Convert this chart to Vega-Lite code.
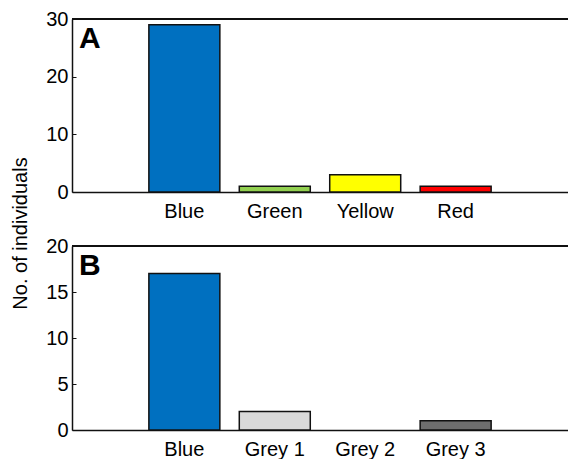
{
  "$schema": "https://vega.github.io/schema/vega-lite/v6.json",
  "padding": {"left": 10, "top": 9, "right": 0, "bottom": 0},
  "background": "white",
  "data": {"values": [
    {"panel": "A", "colour": "Blue", "count": 29},
    {"panel": "A", "colour": "Green", "count": 1},
    {"panel": "A", "colour": "Yellow", "count": 3},
    {"panel": "A", "colour": "Red", "count": 1},
    {"panel": "B", "colour": "Blue", "count": 17},
    {"panel": "B", "colour": "Grey 1", "count": 2},
    {"panel": "B", "colour": "Grey 2", "count": 0},
    {"panel": "B", "colour": "Grey 3", "count": 1}
  ]},
  "config": {
    "font": "Liberation Sans",
    "view": {"stroke": null},
    "axis": {"labelFont": "Liberation Sans", "labelFontSize": 20, "labelColor": "black", "titleFont": "Liberation Sans", "titleFontSize": 20, "titleFontWeight": "normal", "titleColor": "black", "domainColor": "#111", "domainWidth": 1.5, "grid": false},
    "title": {"font": "Liberation Sans"}
  },
  "bounds": "flush",
  "spacing": 54,
  "resolve": {"scale": {"y": "independent", "x": "independent", "color": "independent"}},
  "vconcat": [
    {
      "width": 496,
      "height": 173,
      "title": {"text": "A", "anchor": "start", "frame": "group", "orient": "top", "baseline": "top", "offset": -18, "dx": 7, "dy": 27, "fontSize": 30, "fontWeight": "bold", "color": "black"},
      "transform": [{"filter": "datum.panel === 'A'"}],
      "layer": [
        {
          "mark": {"type": "bar", "stroke": "#111", "strokeWidth": 1.5},
          "encoding": {
            "x": {"field": "colour", "type": "nominal", "sort": null, "scale": {"paddingInner": 0.215, "paddingOuter": 0.85},
                  "axis": {"title": null, "labelAngle": 0, "ticks": false, "tickSize": 0, "labelPadding": 9}},
            "y": {"field": "count", "type": "quantitative", "scale": {"domain": [0, 30], "nice": false},
                  "axis": {"title": "No. of individuals", "values": [0, 10, 20, 30], "tickSize": -4, "tickColor": "#111", "labelPadding": 8, "titleX": -52, "titleY": 214, "titleBaseline": "middle", "titleAlign": "center"}},
            "color": {"field": "colour", "type": "nominal", "legend": null,
                      "scale": {"domain": ["Blue", "Green", "Yellow", "Red"], "range": ["#0070C0", "#92D050", "#FFFF00", "#FF0000"]}}
          }
        },
        {
          "mark": {"type": "rule", "color": "#111", "strokeWidth": 1.5},
          "encoding": {"y": {"datum": 30}}
        }
      ]
    },
    {
      "width": 496,
      "height": 184,
      "title": {"text": "B", "anchor": "start", "frame": "group", "orient": "top", "baseline": "top", "offset": -18, "dx": 7, "dy": 27, "fontSize": 30, "fontWeight": "bold", "color": "black"},
      "transform": [{"filter": "datum.panel === 'B'"}],
      "layer": [
        {
          "mark": {"type": "bar", "stroke": "#111", "strokeWidth": 1.5},
          "encoding": {
            "x": {"field": "colour", "type": "nominal", "sort": null, "scale": {"paddingInner": 0.215, "paddingOuter": 0.85},
                  "axis": {"title": null, "labelAngle": 0, "ticks": false, "tickSize": 0, "labelPadding": 9}},
            "y": {"field": "count", "type": "quantitative", "scale": {"domain": [0, 20], "nice": false},
                  "axis": {"title": null, "values": [0, 5, 10, 15, 20], "tickSize": -4, "tickColor": "#111", "labelPadding": 8}},
            "color": {"field": "colour", "type": "nominal", "legend": null,
                      "scale": {"domain": ["Blue", "Grey 1", "Grey 2", "Grey 3"], "range": ["#0070C0", "#D9D9D9", "#A6A6A6", "#6E6E6E"]}},
            "strokeOpacity": {"condition": {"test": "datum.count === 0", "value": 0}, "value": 1}
          }
        },
        {
          "mark": {"type": "rule", "color": "#111", "strokeWidth": 1.5},
          "encoding": {"y": {"datum": 20}}
        }
      ]
    }
  ]
}
